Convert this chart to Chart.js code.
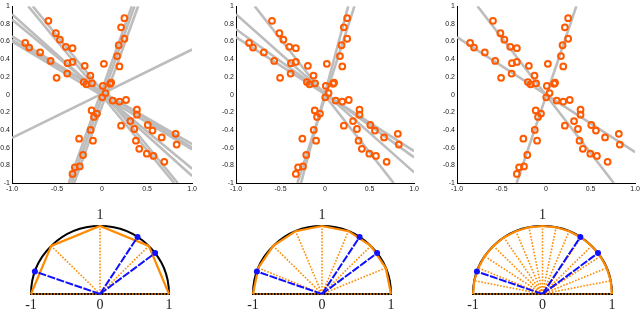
<!DOCTYPE html>
<html>
<head>
<meta charset="utf-8">
<script src="https://cdn.jsdelivr.net/npm/chart.js@4"></script>
<style>
  html, body { margin: 0; padding: 0; background: #fff; overflow: hidden; }
  body { width: 640px; height: 313px; position: relative; }
  canvas { position: absolute; }
</style>
</head>
<body>
<canvas id="top1"></canvas>
<canvas id="top2"></canvas>
<canvas id="top3"></canvas>
<canvas id="bot1"></canvas>
<canvas id="bot2"></canvas>
<canvas id="bot3"></canvas>
<script>
// sample points, same in all three top panels
const ptsX = [-0.596, -0.513, -0.468, -0.402, -0.328, -0.853, -0.809, -0.688, -0.571, -0.383,
  -0.328, -0.505, -0.387, -0.193, -0.130, -0.204, -0.174, -0.112, 0.020, 0.009,
  0.090, 0.101, 0.039, 0.002, 0.119, 0.193, 0.266, 0.211, 0.248, 0.248,
  0.185, 0.167, 0.193, -0.116, -0.057, -0.090, -0.127, -0.101, -0.255, -0.211,
  -0.248, -0.303, -0.328, 0.387, 0.387, 0.314, 0.211, 0.358, 0.508, 0.560,
  0.376, 0.413, 0.497, 0.571, 0.662, 0.691, 0.817, 0.828];
const ptsY = [0.834, 0.694, 0.621, 0.540, 0.525, 0.584, 0.532, 0.477, 0.381, 0.355,
  0.370, 0.190, 0.238, 0.326, 0.215, 0.142, 0.116, 0.127, 0.348, 0.098,
  0.123, 0.134, 0.017, -0.031, -0.068, -0.079, -0.061, 0.761, 0.864, 0.632,
  0.558, 0.436, 0.319, -0.179, -0.215, -0.252, -0.400, -0.521, -0.499, -0.683,
  -0.812, -0.823, -0.897, -0.171, -0.227, -0.300, -0.352, -0.389, -0.344, -0.407,
  -0.521, -0.613, -0.668, -0.694, -0.484, -0.760, -0.444, -0.565];

// fitted lines per panel: [x1, y1, x2, y2]
const linesPanel1 = [
  [-1, -0.49, 1, 0.51],
  [-0.37, -1, 0.33, 1], [-0.34, -1, 0.36, 1], [-0.31, -1, 0.40, 1],
  [-0.82, 1, 0.80, -1], [-0.77, 1, 0.84, -1],
  [-1, 0.91, 1, -0.92], [-1, 0.85, 1, -0.84],
  [-1, 0.66, 1, -0.60], [-1, 0.62, 1, -0.56], [-1, 0.60, 1, -0.62]
];
const linesPanel2 = [
  [-0.31, -1, 0.33, 1], [-0.27, -1, 0.26, 1],
  [-0.79, 1, 0.77, -1],
  [-1, 0.91, 1, -0.88],
  [-1, 0.74, 1, -0.71],
  [-1, 0.65, 1, -0.64]
];
const linesPanel3 = [
  [-0.33, -1, 0.34, 1],
  [-0.77, 1, 0.76, -1],
  [-1, 0.65, 1, -0.65]
];

const xTicks = [-1, -0.5, 0, 0.5, 1];
const yTicks = [-1, -0.8, -0.6, -0.4, -0.2, 0, 0.2, 0.4, 0.6, 0.8, 1];

// bottom panels: polygon vertex angles (degrees) and normal directions
const polyAngles1 = [0, 45, 90, 135, 180];
const polyAngles2 = [0, 22.5, 45, 67.5, 90, 112.5, 135, 157.5, 180];
const polyAngles3 = [0, 11.25, 22.5, 33.75, 45, 56.25, 67.5, 78.75, 90,
  101.25, 112.5, 123.75, 135, 146.25, 157.5, 168.75, 180];
const normalAngles = [160.7, 57, 37];
const baseLabels = [-1, 0, 1];
const topLabel = '1';

const ORANGE_PT = '#ff5a00';
const ORANGE = '#ff8a00';
const GRAY = '#bdbdbd';
const BLUE = '#1010ff';

function place(id, left, top, w, h) {
  const c = document.getElementById(id);
  c.width = Math.round(w);
  c.height = Math.round(h);
  c.style.left = left + 'px';
  c.style.top = top + 'px';
  return c;
}

// top scatter panels
function makeTop(id, areaL, areaR, lines) {
  const yW = 14, padR = 3;
  const c = place(id, areaL - yW, 0, areaR - areaL + yW + padR, 195);
  const datasets = [{
    data: ptsX.map((x, i) => ({x: x, y: ptsY[i]})),
    showLine: false,
    pointRadius: 2.9,
    pointBorderWidth: 2,
    pointBorderColor: ORANGE_PT,
    pointBackgroundColor: 'rgba(0,0,0,0)'
  }];
  lines.forEach(l => {
    datasets.push({
      data: [{x: l[0], y: l[1]}, {x: l[2], y: l[3]}],
      showLine: true,
      borderColor: GRAY,
      borderWidth: 2.6,
      pointRadius: 0
    });
  });
  new Chart(c.getContext('2d'), {
    type: 'scatter',
    data: {datasets: datasets},
    options: {
      responsive: false,
      animation: false,
      layout: {padding: {top: 2, right: padR, left: 0, bottom: 0}},
      plugins: {legend: {display: false}, tooltip: {enabled: false}},
      scales: {
        x: {
          type: 'linear', min: -1, max: 1,
          afterBuildTicks: s => { s.ticks = xTicks.map(v => ({value: v})); },
          afterFit: s => { s.height = 12; },
          grid: {display: false, drawTicks: false},
          border: {display: true, color: '#000', width: 1},
          ticks: {padding: 2, color: '#222', font: {size: 7, family: 'Liberation Sans'}, maxRotation: 0}
        },
        y: {
          type: 'linear', min: -1, max: 1,
          afterBuildTicks: s => { s.ticks = yTicks.map(v => ({value: v})); },
          afterFit: s => { s.width = yW; },
          grid: {display: false, drawTicks: false},
          border: {display: true, color: '#000', width: 1},
          ticks: {padding: 2, color: '#222', font: {size: 7, family: 'Liberation Sans'},
            callback: v => String(Math.round(v * 10) / 10)}
        }
      }
    }
  });
}

makeTop('top1', 12.3, 196.7, linesPanel1);
makeTop('top2', 236, 417.7, linesPanel2);
makeTop('top3', 456.7, 638.3, linesPanel3);

// half circle, base line and labels drawn through the scales
const halfDisk = {
  id: 'halfDisk',
  beforeDatasetsDraw(chart) {
    const {ctx, scales: {x, y}} = chart;
    const cx = x.getPixelForValue(0), cy = y.getPixelForValue(0);
    const rx = x.getPixelForValue(1) - cx, ry = cy - y.getPixelForValue(1);
    ctx.save();
    ctx.strokeStyle = '#000';
    ctx.lineWidth = 2;
    ctx.beginPath();
    ctx.ellipse(cx, cy, rx, ry, 0, Math.PI, 2 * Math.PI);
    ctx.stroke();
    ctx.beginPath();
    ctx.moveTo(cx - rx - 1, cy);
    ctx.lineTo(cx + rx + 1, cy);
    ctx.stroke();
    ctx.restore();
  },
  afterDraw(chart) {
    const {ctx, scales: {x, y}} = chart;
    ctx.save();
    ctx.fillStyle = '#222';
    ctx.font = '14px "Liberation Serif"';
    ctx.textAlign = 'center';
    ctx.textBaseline = 'middle';
    baseLabels.forEach(v => {
      ctx.fillText(String(v), x.getPixelForValue(v), y.getPixelForValue(0) + 11);
    });
    ctx.fillText(topLabel, x.getPixelForValue(0), y.getPixelForValue(1) - 11);
    ctx.restore();
  }
};

function rad(a) { return a * Math.PI / 180; }

function makeBottom(id, areaL, areaR, angles) {
  const top = 200, padT = 26, h = 113, radiusY = 68;
  const c = place(id, areaL - 10, top, areaR - areaL + 20, h);
  const datasets = [];
  normalAngles.forEach(a => {
    datasets.push({
      data: [{x: 0, y: 0}, {x: Math.cos(rad(a)), y: Math.sin(rad(a))}],
      showLine: true,
      borderColor: BLUE,
      borderWidth: 2,
      borderDash: [8, 1.5],
      pointRadius: [0, 3],
      pointBackgroundColor: BLUE,
      pointBorderWidth: 0
    });
  });
  datasets.push({
    data: angles.map(a => ({x: Math.cos(rad(a)), y: Math.sin(rad(a))})),
    showLine: true,
    borderColor: ORANGE,
    borderWidth: 2.2,
    pointRadius: 0
  });
  angles.forEach(a => {
    datasets.push({
      data: [{x: 0, y: 0}, {x: Math.cos(rad(a)), y: Math.sin(rad(a))}],
      showLine: true,
      borderColor: ORANGE,
      borderWidth: 1.6,
      borderDash: [1.6, 1.6],
      pointRadius: 0
    });
  });
  new Chart(c.getContext('2d'), {
    type: 'scatter',
    data: {datasets: datasets},
    options: {
      responsive: false,
      animation: false,
      clip: false,
      layout: {padding: {top: padT, left: 10, right: 10, bottom: h - padT - radiusY}},
      plugins: {legend: {display: false}, tooltip: {enabled: false}},
      scales: {
        x: {type: 'linear', min: -1, max: 1, display: false},
        y: {type: 'linear', min: 0, max: 1, display: false}
      }
    },
    plugins: [halfDisk]
  });
}

makeBottom('bot1', 31, 169, polyAngles1);
makeBottom('bot2', 252.5, 390.5, polyAngles2);
makeBottom('bot3', 473, 611.5, polyAngles3);
</script>
</body>
</html>
